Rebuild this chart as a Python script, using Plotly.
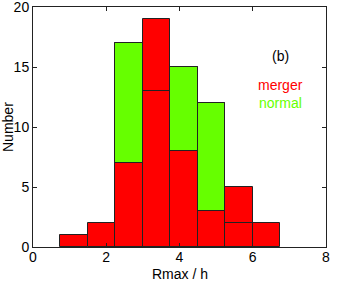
import plotly.graph_objects as go

bin_edges = [0.75, 1.5, 2.25, 3.0, 3.75, 4.5, 5.25, 6.0, 6.75]
merger_counts = [1, 2, 7, 19, 8, 3, 5, 2]
normal_counts = [0, 0, 17, 13, 15, 12, 2, 0]
x_ticks = [0, 2, 4, 6, 8]
y_ticks = [0, 5, 10, 15, 20]

centers = [(a + b) / 2 for a, b in zip(bin_edges[:-1], bin_edges[1:])]
widths = [b - a for a, b in zip(bin_edges[:-1], bin_edges[1:])]

GREEN = "#66ff00"
RED = "#ff0000"
EDGE = "#222222"

fig = go.Figure()
fig.add_trace(go.Bar(x=centers, y=[v if v else None for v in normal_counts], width=widths,
                     marker=dict(color=GREEN, line=dict(color=EDGE, width=1))))
fig.add_trace(go.Bar(x=centers, y=merger_counts, width=widths,
                     marker=dict(color=RED, line=dict(color=EDGE, width=1))))
fig.add_trace(go.Bar(x=centers, y=[v if v else None for v in normal_counts], width=widths,
                     marker=dict(color="rgba(0,0,0,0)", line=dict(color=EDGE, width=1))))

font = "Liberation Sans, Arial, sans-serif"
fig.add_annotation(x=6.75, y=15.9, text="(b)", showarrow=False,
                   font=dict(family=font, size=14, color="black"))
fig.add_annotation(x=6.75, y=13.5, text="merger", showarrow=False,
                   font=dict(family=font, size=14, color=RED))
fig.add_annotation(x=6.75, y=12.0, text="normal", showarrow=False,
                   font=dict(family=font, size=14, color=GREEN))
fig.add_annotation(xref="paper", yref="paper", x=0, y=0.5, xshift=-25, textangle=-90,
                   text="Number", showarrow=False, xanchor="center", yanchor="middle",
                   font=dict(family=font, size=14, color="black"))
fig.add_annotation(xref="paper", yref="paper", x=0.5, y=0, yshift=-27,
                   text="Rmax / h", showarrow=False, xanchor="center", yanchor="middle",
                   font=dict(family=font, size=14, color="black"))

axis_common = dict(showline=True, mirror="ticks", linecolor=EDGE, linewidth=1,
                   ticks="inside", ticklen=4, tickcolor=EDGE, showgrid=False, zeroline=False,
                   automargin=False, ticklabeloverflow="allow",
                   tickfont=dict(family=font, size=14, color="black"))
fig.update_layout(
    width=338, height=291,
    margin=dict(l=33, r=12, t=7, b=44),
    barmode="overlay", bargap=0, showlegend=False,
    plot_bgcolor="white", paper_bgcolor="white",
    xaxis=dict(range=[0, 8], tickvals=x_ticks, ticklabelstandoff=-3, **axis_common),
    yaxis=dict(range=[0, 20], tickvals=y_ticks, **axis_common),
)
fig.write_html("out.html", config={"displayModeBar": False},
               post_script="document.body.style.margin='0';")
